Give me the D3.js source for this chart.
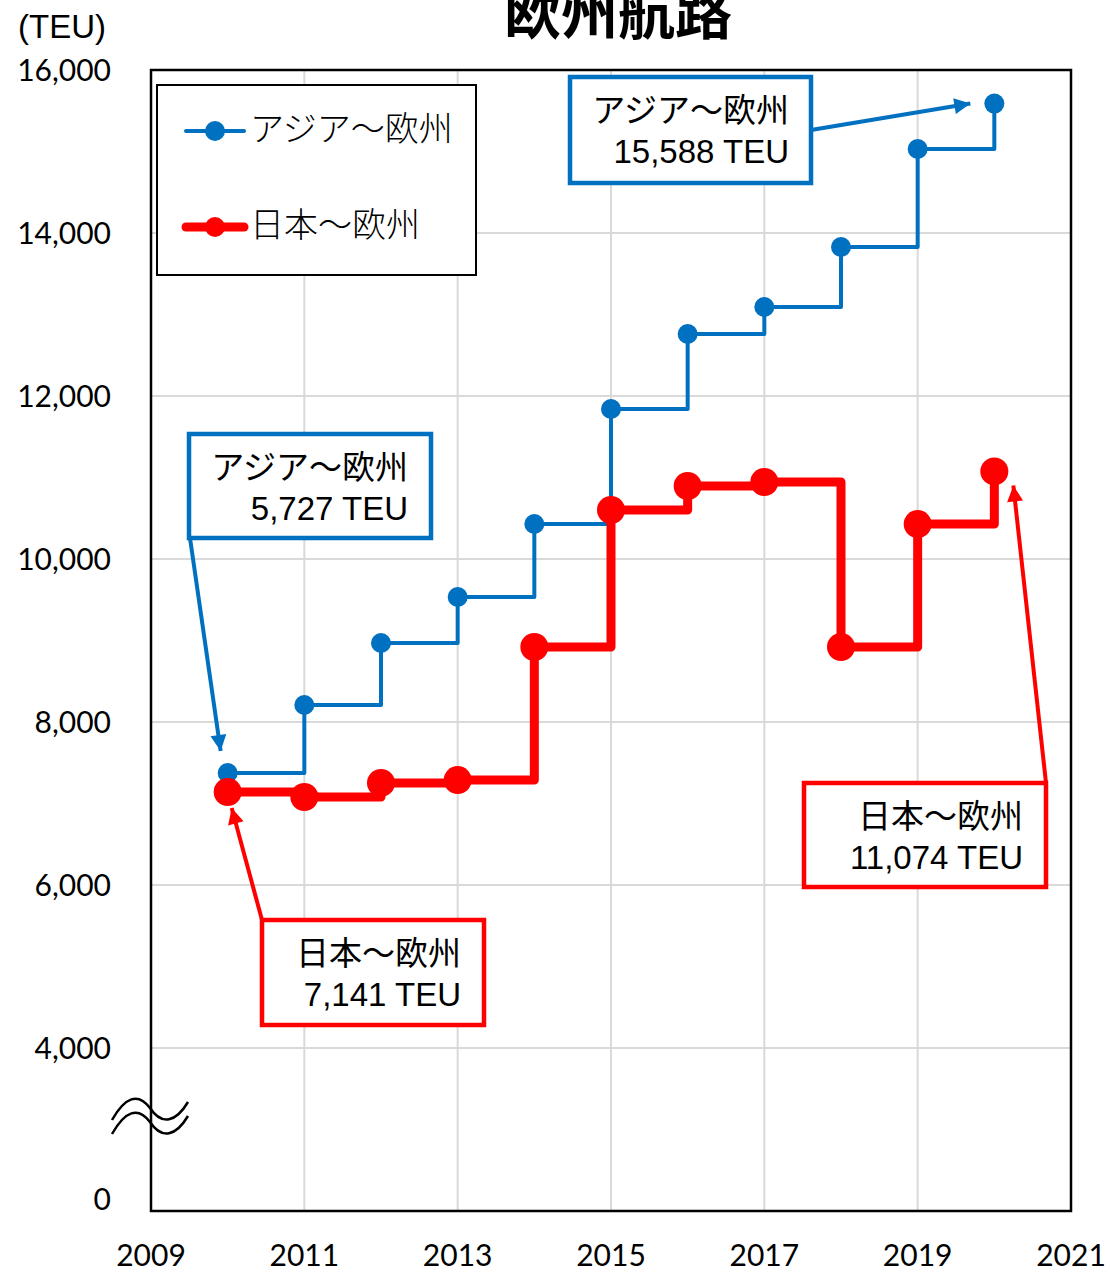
<!DOCTYPE html>
<html>
<head>
<meta charset="utf-8">
<script src="https://cdn.jsdelivr.net/npm/d3@7"></script>
<style>
  body { margin: 0; background: #fff; }
  svg { display: block; }
  .tick-label { font-family: Lato, "Open Sans", sans-serif; font-size: 30px; fill: #000; }
  .note { font-family: "Liberation Sans", "Noto Sans CJK JP", sans-serif; font-size: 33px; fill: #000; }
  .jp { font-family: "Noto Sans CJK JP", sans-serif; }
</style>
</head>
<body>
<svg id="chart" width="1110" height="1272"></svg>
<script>
// data
var years = [2010, 2011, 2012, 2013, 2014, 2015, 2016, 2017, 2018, 2019, 2020];
var asiaEurope = [7374, 8209, 8969, 9534, 10429, 11840, 12761, 13092, 13828, 15031, 15588];
var japanEurope = [7141, 7080, 7252, 7288, 8920, 10601, 10896, 10945, 8920, 10429, 11074];
var yTicks = [4000, 6000, 8000, 10000, 12000, 14000, 16000];
var xTicks = [2009, 2011, 2013, 2015, 2017, 2019, 2021];

var blue = "#0070C0", red = "#FF0000";

var svg = d3.select("#chart");

var x = d3.scaleLinear().domain([2009, 2021]).range([151, 1071]);
var y = d3.scaleLinear().domain([2000, 16000]).range([1211, 70]);

var defs = svg.append("defs");
[["arrowBlue", blue], ["arrowRed", red]].forEach(function(a) {
    defs.append("marker")
        .attr("id", a[0])
        .attr("viewBox", "0 0 10 10")
        .attr("refX", 10).attr("refY", 5)
        .attr("markerWidth", 5).attr("markerHeight", 4)
        .attr("markerUnits", "strokeWidth")
        .attr("orient", "auto")
      .append("path")
        .attr("d", "M0,0L10,5L0,10Z")
        .attr("fill", a[1]);
});

// gridlines
svg.append("g")
    .selectAll("line")
    .data(yTicks.slice(0, -1))
  .enter().append("line")
    .attr("x1", x(2009)).attr("x2", x(2021))
    .attr("y1", function(d) { return y(d); })
    .attr("y2", function(d) { return y(d); })
    .attr("stroke", "#d9d9d9").attr("stroke-width", 2);

svg.append("g")
    .selectAll("line")
    .data(xTicks.slice(1, -1))
  .enter().append("line")
    .attr("x1", function(d) { return x(d); })
    .attr("x2", function(d) { return x(d); })
    .attr("y1", y(16000)).attr("y2", y(2000))
    .attr("stroke", "#d9d9d9").attr("stroke-width", 2);

// plot frame
svg.append("rect")
    .attr("x", x(2009)).attr("y", y(16000))
    .attr("width", x(2021) - x(2009))
    .attr("height", y(2000) - y(16000))
    .attr("fill", "none")
    .attr("stroke", "#000").attr("stroke-width", 2.5);

// y tick labels
svg.append("g")
    .selectAll("text")
    .data(yTicks)
  .enter().append("text")
    .attr("class", "tick-label")
    .attr("x", 111)
    .attr("y", function(d) { return y(d); })
    .attr("dy", "0.35em")
    .attr("text-anchor", "end")
    .text(function(d) { return d3.format(",")(d); });

svg.append("text")
    .attr("class", "tick-label")
    .attr("x", 111).attr("y", y(2000) - 12)
    .attr("dy", "0.35em")
    .attr("text-anchor", "end")
    .text("0");

// x tick labels
svg.append("g")
    .selectAll("text")
    .data(xTicks)
  .enter().append("text")
    .attr("class", "tick-label")
    .attr("x", function(d) { return x(d); })
    .attr("y", 1255)
    .attr("dy", "0.35em")
    .attr("text-anchor", "middle")
    .text(function(d) { return d; });

// unit and title
svg.append("text")
    .attr("x", 18).attr("y", 38)
    .style("font-family", "'Liberation Sans', sans-serif")
    .style("font-size", "33px")
    .text("(TEU)");

svg.append("text")
    .attr("class", "jp")
    .attr("x", 618).attr("y", 34)
    .attr("text-anchor", "middle")
    .style("font-size", "57px")
    .style("font-weight", "bold")
    .text("欧州航路");

// axis break mark
var wave = function(oy) {
    var p = d3.path();
    p.moveTo(112, oy + 20);
    p.bezierCurveTo(125, oy - 3, 138, oy - 8, 150, oy + 8);
    p.bezierCurveTo(162, oy + 26, 176, oy + 22, 188, oy + 2);
    return p.toString();
};
[1100, 1114].forEach(function(oy) {
    svg.append("path")
        .attr("d", wave(oy))
        .attr("fill", "none")
        .attr("stroke", "#000").attr("stroke-width", 2.5);
});

// step lines
var line = d3.line()
    .x(function(d, i) { return x(years[i]); })
    .y(function(d) { return y(d); })
    .curve(d3.curveStepAfter);

svg.append("path")
    .datum(asiaEurope)
    .attr("d", line)
    .attr("fill", "none")
    .attr("stroke", blue).attr("stroke-width", 4)
    .attr("stroke-linejoin", "round");

svg.append("g")
    .selectAll("circle")
    .data(asiaEurope)
  .enter().append("circle")
    .attr("cx", function(d, i) { return x(years[i]); })
    .attr("cy", function(d) { return y(d); })
    .attr("r", 10)
    .attr("fill", blue);

svg.append("path")
    .datum(japanEurope)
    .attr("d", line)
    .attr("fill", "none")
    .attr("stroke", red).attr("stroke-width", 9)
    .attr("stroke-linejoin", "round");

svg.append("g")
    .selectAll("circle")
    .data(japanEurope)
  .enter().append("circle")
    .attr("cx", function(d, i) { return x(years[i]); })
    .attr("cy", function(d) { return y(d); })
    .attr("r", 14)
    .attr("fill", red);

// legend
var legend = svg.append("g");
legend.append("rect")
    .attr("x", 157).attr("y", 85)
    .attr("width", 319).attr("height", 190)
    .attr("fill", "#fff")
    .attr("stroke", "#000").attr("stroke-width", 2);

legend.append("line")
    .attr("x1", 186).attr("x2", 244).attr("y1", 131).attr("y2", 131)
    .attr("stroke", blue).attr("stroke-width", 4).attr("stroke-linecap", "round");
legend.append("circle").attr("cx", 215).attr("cy", 131).attr("r", 10).attr("fill", blue);
legend.append("text")
    .attr("class", "jp")
    .attr("x", 250).attr("y", 129).attr("dy", "0.35em")
    .style("font-size", "34px").style("font-weight", 300)
    .text("アジア～欧州");

legend.append("line")
    .attr("x1", 186).attr("x2", 244).attr("y1", 227).attr("y2", 227)
    .attr("stroke", red).attr("stroke-width", 9).attr("stroke-linecap", "round");
legend.append("circle").attr("cx", 215).attr("cy", 227).attr("r", 10).attr("fill", red);
legend.append("text")
    .attr("class", "jp")
    .attr("x", 250).attr("y", 225).attr("dy", "0.35em")
    .style("font-size", "34px").style("font-weight", 300)
    .text("日本～欧州");

// callouts: box, arrow from a box corner to the point
function callout(box, from, target, color, lines, textX, marker) {
    var g = svg.append("g");
    g.append("line")
        .attr("x1", from[0]).attr("y1", from[1])
        .attr("x2", target[0]).attr("y2", target[1])
        .attr("stroke", color).attr("stroke-width", 4)
        .attr("marker-end", "url(#" + marker + ")");
    g.append("rect")
        .attr("x", box[0]).attr("y", box[1])
        .attr("width", box[2]).attr("height", box[3])
        .attr("fill", "#fff")
        .attr("stroke", color).attr("stroke-width", 4.5);
    lines.forEach(function(t, i) {
        g.append("text")
            .attr("class", "note" + (i === 0 ? " jp" : ""))
            .attr("x", textX)
            .attr("y", box[1] + 33 + i * 41)
            .attr("dy", "0.35em")
            .attr("text-anchor", "end")
            .text(t);
    });
}

callout([189, 434, 242, 104], [190, 538], [x(2010) - 7, y(asiaEurope[0]) - 22],
    blue, ["アジア～欧州", "5,727 TEU"], 408, "arrowBlue");
callout([570, 77, 241, 106], [811, 130], [x(2020) - 24, y(asiaEurope[10])],
    blue, ["アジア～欧州", "15,588 TEU"], 789, "arrowBlue");
callout([262, 920, 222, 105], [262, 920], [x(2010) + 4, y(japanEurope[0]) + 16],
    red, ["日本～欧州", "7,141 TEU"], 461, "arrowRed");
callout([804, 783, 242, 104], [1046, 783], [x(2020) + 19, y(japanEurope[10]) + 14],
    red, ["日本～欧州", "11,074 TEU"], 1023, "arrowRed");
</script>
</body>
</html>
